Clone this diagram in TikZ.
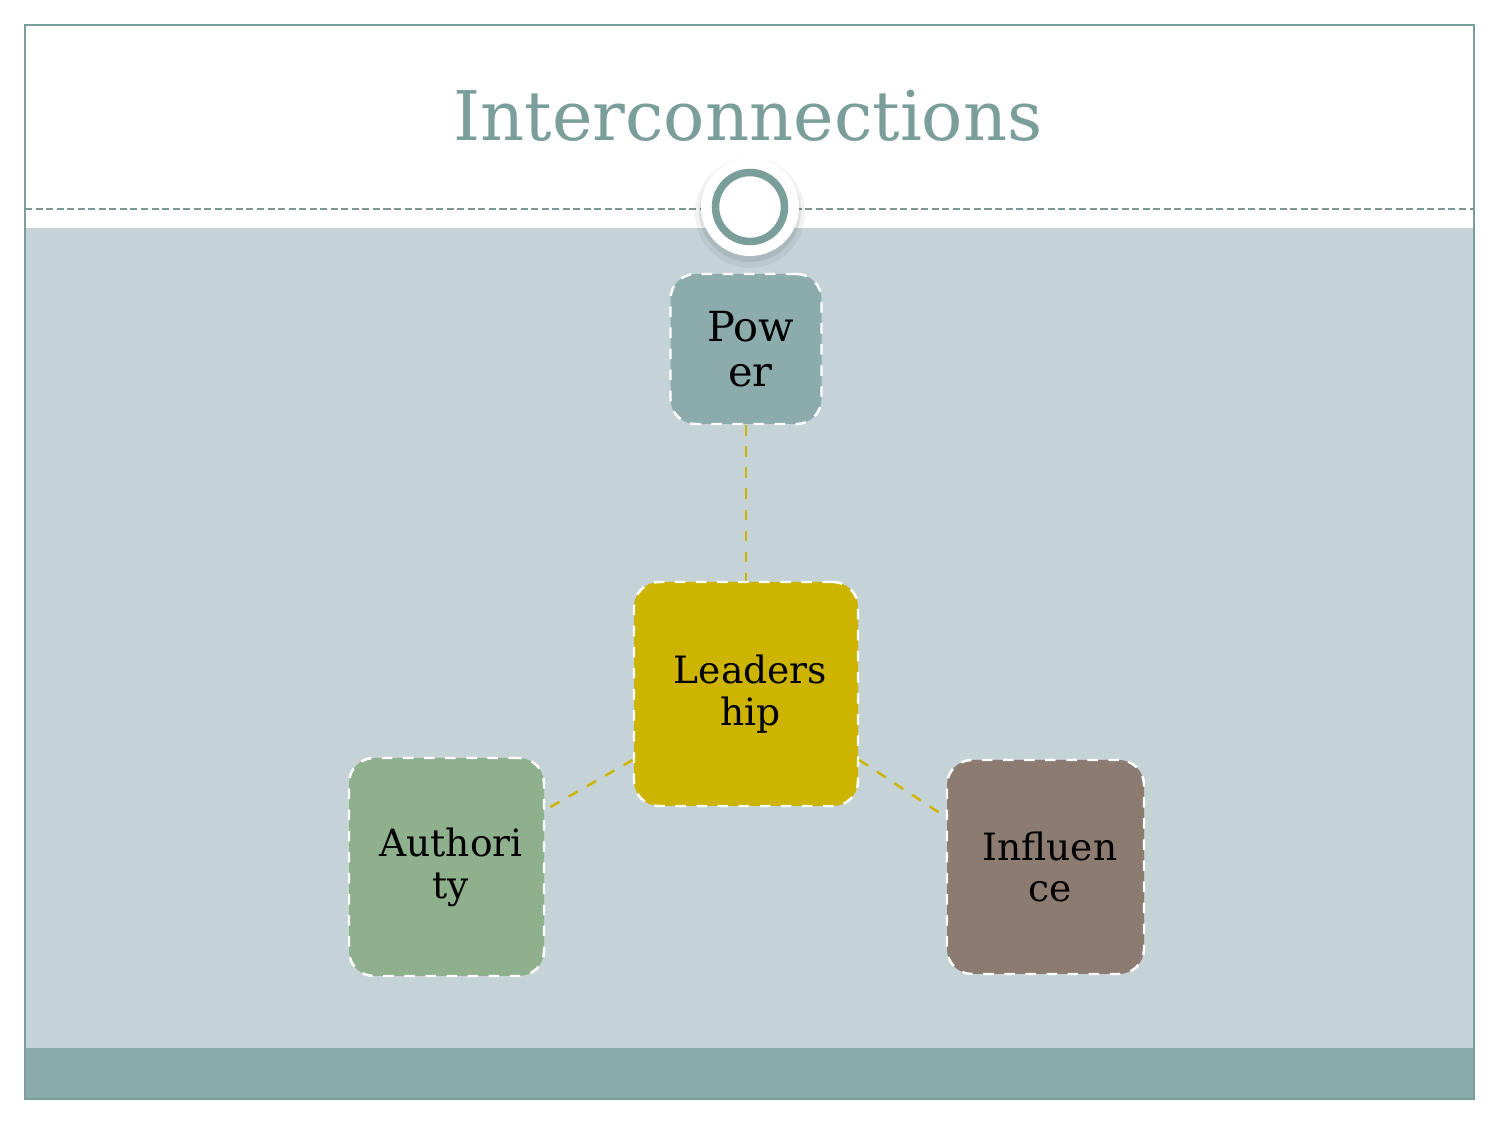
\documentclass[tikz,border=0pt]{standalone}
\usepackage{fontspec}
\setmainfont{DejaVu Serif}
\usetikzlibrary{positioning,calc}

\definecolor{frameteal}{RGB}{122,158,153}
\definecolor{panelgray}{RGB}{197,211,215}
\definecolor{stripteal}{RGB}{140,172,172}
\definecolor{powerfill}{RGB}{140,172,172}
\definecolor{leadfill}{RGB}{204,180,0}
\definecolor{authfill}{RGB}{143,176,140}
\definecolor{inflfill}{RGB}{140,123,112}

\newcommand{\nudge}{\hspace*{0.09cm}}

\tikzset{
  termbox/.style={rectangle, rounded corners=0.25cm, draw=white, dashed, line width=0.7pt,
    align=center, font=\fontsize{10.7}{11.9}\selectfont, text=black, inner sep=0pt},
  link/.style={draw=leadfill, dashed, line width=0.7pt}
}

\begin{document}
\begin{tikzpicture}
\useasboundingbox (0,0) rectangle (15,11.25);
% slide background
\fill[white] (0,0) rectangle (15,11.25);
\fill[panelgray] (0.25,0.77) rectangle (14.74,8.97);
\fill[stripteal] (0.25,0.26) rectangle (14.74,0.77);
\draw[frameteal, line width=0.8pt] (0.25,0.26) rectangle (14.74,11.0);
\draw[frameteal!80!gray, dash pattern=on 2pt off 1pt, line width=0.4pt] (0.25,9.16) -- (14.74,9.16);

% title and ring
\node[text=frameteal, font=\fontsize{19.5}{23}\selectfont] (title) at (7.48,10.09) {Interconnections};
\fill[black, opacity=0.05] (7.5,9.12) circle (0.55);
\fill[black, opacity=0.08] (7.5,9.14) circle (0.51);
\fill[white] (7.5,9.18) circle (0.49);
\coordinate (ring) at (7.5,9.18);
\draw[frameteal, line width=0.075cm] (ring) circle (0.345);

% boxes
\node[termbox, fill=powerfill, minimum width=1.51cm, minimum height=1.50cm,
  font=\fontsize{11.8}{12.8}\selectfont] (power) at (7.46,7.76) {\nudge Pow\\\nudge er};
\node[termbox, fill=leadfill, minimum width=2.24cm, minimum height=2.24cm] (leader) at (7.46,4.31) {\nudge Leaders\\\nudge hip};
\node[termbox, fill=authfill, minimum width=1.95cm, minimum height=2.18cm] (auth) at (4.465,2.58) {\nudge Authori\\\nudge ty};
\node[termbox, fill=inflfill, minimum width=1.97cm, minimum height=2.14cm] (infl) at (10.455,2.58) {\nudge Influen\\\nudge ce};

% links
\draw[link] (power.south) -- (leader.north);
\draw[link] ([yshift=-0.66cm]leader.west) -- ([yshift=0.57cm]auth.east);
\draw[link] ([yshift=-0.66cm]leader.east) -- ([yshift=0.50cm]infl.west);
\end{tikzpicture}
\end{document}
